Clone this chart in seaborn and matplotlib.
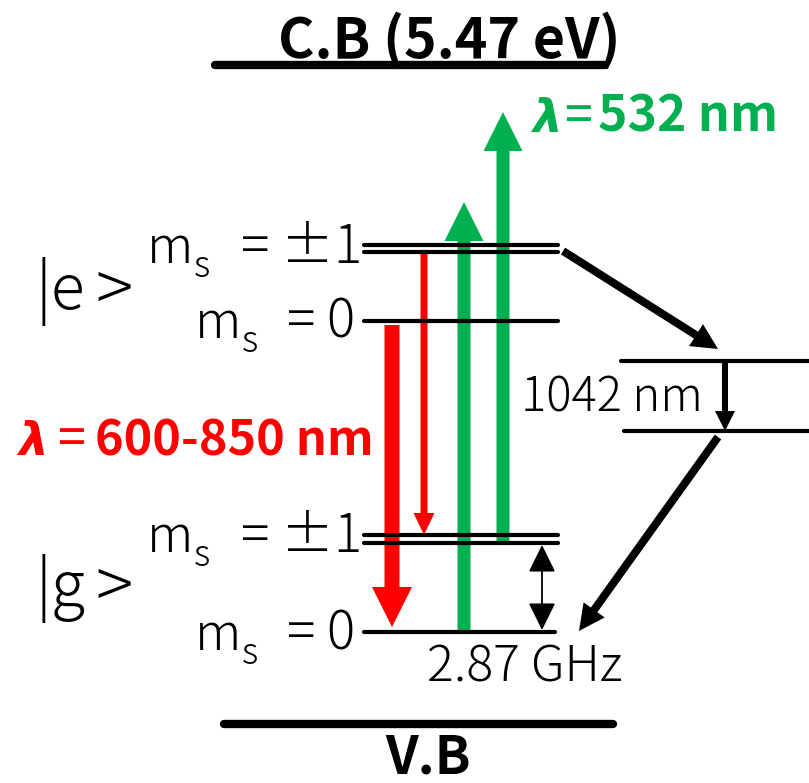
import matplotlib
matplotlib.use('Agg')
import matplotlib.pyplot as plt
import seaborn as sns
import pandas as pd

# NV centre energy level diagram, coordinates in diagram units (y grows downward)
band_labels = ['C.B (5.47 eV)', 'V.B']
band_y = [65, 724]
band_x0 = [215, 224]
band_x1 = [605, 613]

level_names = ['e_pm1_a', 'e_pm1_b', 'e_0', 'g_pm1_a', 'g_pm1_b', 'g_0', 'sing_up', 'sing_low']
level_y = [245, 252, 321, 535, 543, 632, 361, 431]
level_x0 = [364, 364, 364, 364, 364, 364, 621, 624]
level_x1 = [558, 558, 558, 558, 558, 555, 809, 809]

# excitation (532 nm) and emission (600-850 nm) arrows
green_x = [464, 503]
green_from = [632, 542]
green_to = [202, 112]
red_x = [392, 424]
red_from = [325, 252]
red_to = [627, 535]

# intersystem crossing / singlet path
isc_from = [(563, 251), (725, 362), (718, 437)]
isc_to = [(718, 349), (725, 431), (579, 631)]

state_labels = ['|e', '|g']
state_y = [309, 606]
spin_labels = ['= ±1', '= 0', '= ±1', '= 0']
spin_y = [263, 338, 552, 650]

GREEN = '#00B050'
RED = '#FF0000'

sns.set_theme(style='white')
plt.rcParams['font.family'] = ['Noto Sans CJK JP', 'DejaVu Sans']
plt.rcParams['text.color'] = 'black'

fig = plt.figure(figsize=(8.09, 7.83), dpi=100)
ax = fig.add_axes([0, 0, 1, 1])

bands = pd.DataFrame({'x': band_x0 + band_x1, 'y': band_y * 2, 'name': band_labels * 2})
levels = pd.DataFrame({'x': level_x0 + level_x1, 'y': level_y * 2, 'name': level_names * 2})
sns.lineplot(data=bands, x='x', y='y', units='name', estimator=None, color='black',
             linewidth=6, legend=False, ax=ax, zorder=3)
sns.lineplot(data=levels, x='x', y='y', units='name', estimator=None, color='black',
             linewidth=3, legend=False, ax=ax, zorder=3)

# coloured optical arrows
for x, y0, y1 in zip(green_x, green_from, green_to):
    ax.arrow(x, y0, 0, y1 - y0, width=13, head_width=39, head_length=39,
             length_includes_head=True, color=GREEN, lw=0, zorder=2)
red_w = [15, 7]
red_hw = [40, 21]
red_hl = [40, 22]
for x, y0, y1, w, hw, hl in zip(red_x, red_from, red_to, red_w, red_hw, red_hl):
    ax.arrow(x, y0, 0, y1 - y0, width=w, head_width=hw, head_length=hl,
             length_includes_head=True, color=RED, lw=0, zorder=2)

# black non-radiative path
isc_w = [8, 6, 8]
isc_h = [26, 20, 26]
for (x0, y0), (x1, y1), w, h in zip(isc_from, isc_to, isc_w, isc_h):
    ax.arrow(x0, y0, x1 - x0, y1 - y0, width=w, head_width=h, head_length=h,
             length_includes_head=True, color='black', lw=0, zorder=2)

# zero field splitting
ax.annotate('', xy=(542, 630), xytext=(542, 545),
            arrowprops=dict(arrowstyle='<|-|>,head_length=0.85,head_width=0.42',
                            mutation_scale=20, lw=1.3, color='black',
                            shrinkA=0, shrinkB=0))

# text
ax.text(449, 58, band_labels[0], fontsize=40, fontweight='bold', ha='center', va='baseline')
ax.text(428, 773, band_labels[1], fontsize=38, fontweight='bold', ha='center', va='baseline')

ax.text(532, 132, 'λ', fontsize=34, fontweight='bold', style='italic', color=GREEN,
        family='DejaVu Sans', va='baseline')
ax.text(564, 132, '=', fontsize=36, color=GREEN, va='baseline')
ax.text(598, 132, '532 nm', fontsize=36, fontweight='bold', color=GREEN, va='baseline')
ax.text(18, 455, 'λ', fontsize=34, fontweight='bold', style='italic', color=RED,
        family='DejaVu Sans', va='baseline')
ax.text(57, 455, '=', fontsize=36, color=RED, va='baseline')
ax.text(95, 455, '600-850 nm', fontsize=35, fontweight='bold', color=RED, va='baseline')

for lab, y in zip(state_labels, state_y):
    ax.text(36, y, lab, fontsize=45, fontweight=300, va='baseline')
    ax.text(95, y + 3, '>', fontsize=50, fontweight=300, va='baseline')

for lab, y in zip(spin_labels, spin_y):
    mx = 147 if '±' in lab else 195
    right = 362 if '±' in lab else 355
    ax.text(mx, y, 'm', fontsize=37, fontweight=300, va='baseline')
    ax.text(mx + 47, y + 14, 's', fontsize=26, fontweight=300, va='baseline')
    ax.text(right, y, lab, fontsize=38, fontweight=300, va='baseline', ha='right')

ax.text(427, 682, '2.87 GHz', fontsize=36, fontweight=300, va='baseline')
ax.text(521, 412, '1042 nm', fontsize=34, fontweight=300, va='baseline')

ax.set_xlim(0, 809)
ax.set_ylim(783, 0)
ax.axis('off')

fig.savefig('out.png', dpi=100)
